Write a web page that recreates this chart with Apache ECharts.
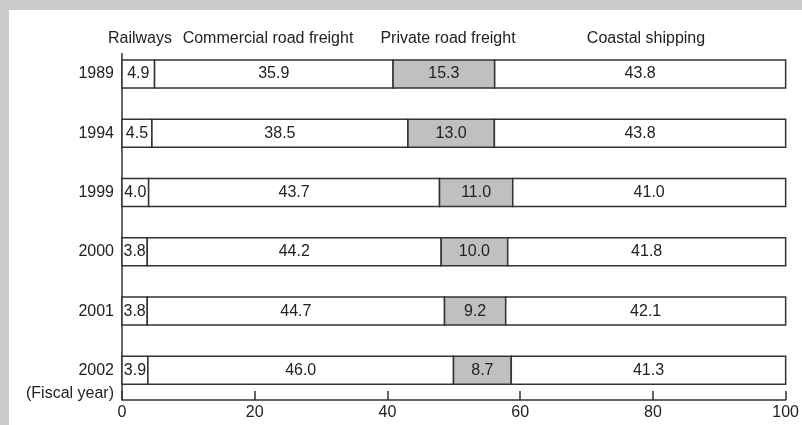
<!DOCTYPE html>
<html>
<head>
<meta charset="utf-8">
<script src="https://cdn.jsdelivr.net/npm/echarts@6/dist/echarts.min.js"></script>
<style>
  html, body { margin: 0; padding: 0; background: #cccccc; width: 802px; height: 425px; overflow: hidden; }
  #chart { position: absolute; left: 9px; top: 10px; width: 793px; height: 415px; background: #ffffff; }
</style>
</head>
<body>
<div id="chart"></div>
<script>
const years = ['1989', '1994', '1999', '2000', '2001', '2002'];
const seriesNames = ['Railways', 'Commercial road freight', 'Private road freight', 'Coastal shipping'];
const railways = [4.9, 4.5, 4.0, 3.8, 3.8, 3.9];
const commercialRoad = [35.9, 38.5, 43.7, 44.2, 44.7, 46.0];
const privateRoad = [15.3, 13.0, 11.0, 10.0, 9.2, 8.7];
const coastalShipping = [43.8, 43.8, 41.0, 41.8, 42.1, 41.3];
const xTicks = [0, 20, 40, 60, 80, 100];
const axisName = '(Fiscal year)';

const FONT = 'Liberation Sans, Arial, Helvetica, sans-serif';
const TXT = '#222222';
const LINE = '#333333';
const fills = ['#ffffff', '#ffffff', '#c0c0c0', '#ffffff'];
const values = [railways, commercialRoad, privateRoad, coastalShipping];

// shares are drawn as a 100% stack (rounded shares normalised to their total)
const totals = years.map((_, j) => values.reduce((s, arr) => s + arr[j], 0));
const cum = years.map(() => 0);
const stacked = values.map(arr => arr.map((v, j) => {
  const s = cum[j];
  cum[j] += v * 100 / totals[j];
  return [s, cum[j], j, v];
}));

const chart = echarts.init(document.getElementById('chart'), null, { renderer: 'canvas' });

const BAR_H = 28;
const series = seriesNames.map((name, i) => ({
  name: name,
  type: 'custom',
  data: stacked[i],
  encode: { x: [0, 1], y: 2 },
  renderItem: function (params, api) {
    const a = api.coord([api.value(0), api.value(2)]);
    const b = api.coord([api.value(1), api.value(2)]);
    const v = api.value(3);
    return {
      type: 'group',
      children: [
        {
          type: 'rect',
          shape: { x: a[0], y: a[1] - BAR_H / 2, width: b[0] - a[0], height: BAR_H },
          style: { fill: fills[i], stroke: LINE, lineWidth: 1.5 }
        },
        {
          type: 'text',
          style: {
            text: Number(v).toFixed(1),
            x: (a[0] + b[0]) / 2, y: a[1],
            align: 'center', verticalAlign: 'middle',
            fill: TXT, font: '16px ' + FONT
          }
        }
      ]
    };
  },
  animation: false,
  silent: true
}));

chart.setOption({
  animation: false,
  backgroundColor: '#ffffff',
  grid: { left: 113, right: 15, top: 34.4, bottom: 25, containLabel: false },
  xAxis: {
    type: 'value',
    min: 0,
    max: 100,
    interval: 20,
    axisLine: { show: true, lineStyle: { color: LINE, width: 1.5 } },
    axisTick: { show: true, inside: true, length: 9, lineStyle: { color: LINE, width: 1.5 } },
    splitLine: { show: false },
    axisLabel: {
      show: true, color: TXT, fontSize: 16, fontFamily: FONT, margin: 5,
      formatter: v => xTicks.includes(v) ? String(v) : ''
    }
  },
  yAxis: {
    type: 'category',
    inverse: true,
    data: years,
    axisLine: { show: false },
    axisTick: { show: false },
    splitLine: { show: false },
    axisLabel: { color: TXT, fontSize: 16, fontFamily: FONT, margin: 8 }
  },
  series: series
});

// decorations derived from the axes
const x0 = chart.convertToPixel({ xAxisIndex: 0 }, 0);
const yFirst = chart.convertToPixel({ yAxisIndex: 0 }, years[0]);
const yLast = chart.convertToPixel({ yAxisIndex: 0 }, years[years.length - 1]);
const gridRect = chart.getModel().getComponent('grid', 0).coordinateSystem.getRect();
const bottomY = gridRect.y + gridRect.height;

const headerX = [131, 259, 439, 637];
const graphic = [
  {
    type: 'line',
    shape: { x1: x0, y1: yFirst - 21, x2: x0, y2: bottomY },
    style: { stroke: LINE, lineWidth: 1.5 },
    silent: true
  },
  {
    type: 'text',
    x: x0 - 8,
    y: yLast + 23,
    style: { text: axisName, fill: TXT, font: '16px ' + FONT, align: 'right', verticalAlign: 'middle' },
    silent: true
  }
];
seriesNames.forEach((n, i) => {
  graphic.push({
    type: 'text',
    x: headerX[i],
    y: 28.5,
    style: { text: n, fill: TXT, font: '16px ' + FONT, align: 'center', verticalAlign: 'middle' },
    silent: true
  });
});
chart.setOption({ graphic: graphic });
</script>
</body>
</html>
